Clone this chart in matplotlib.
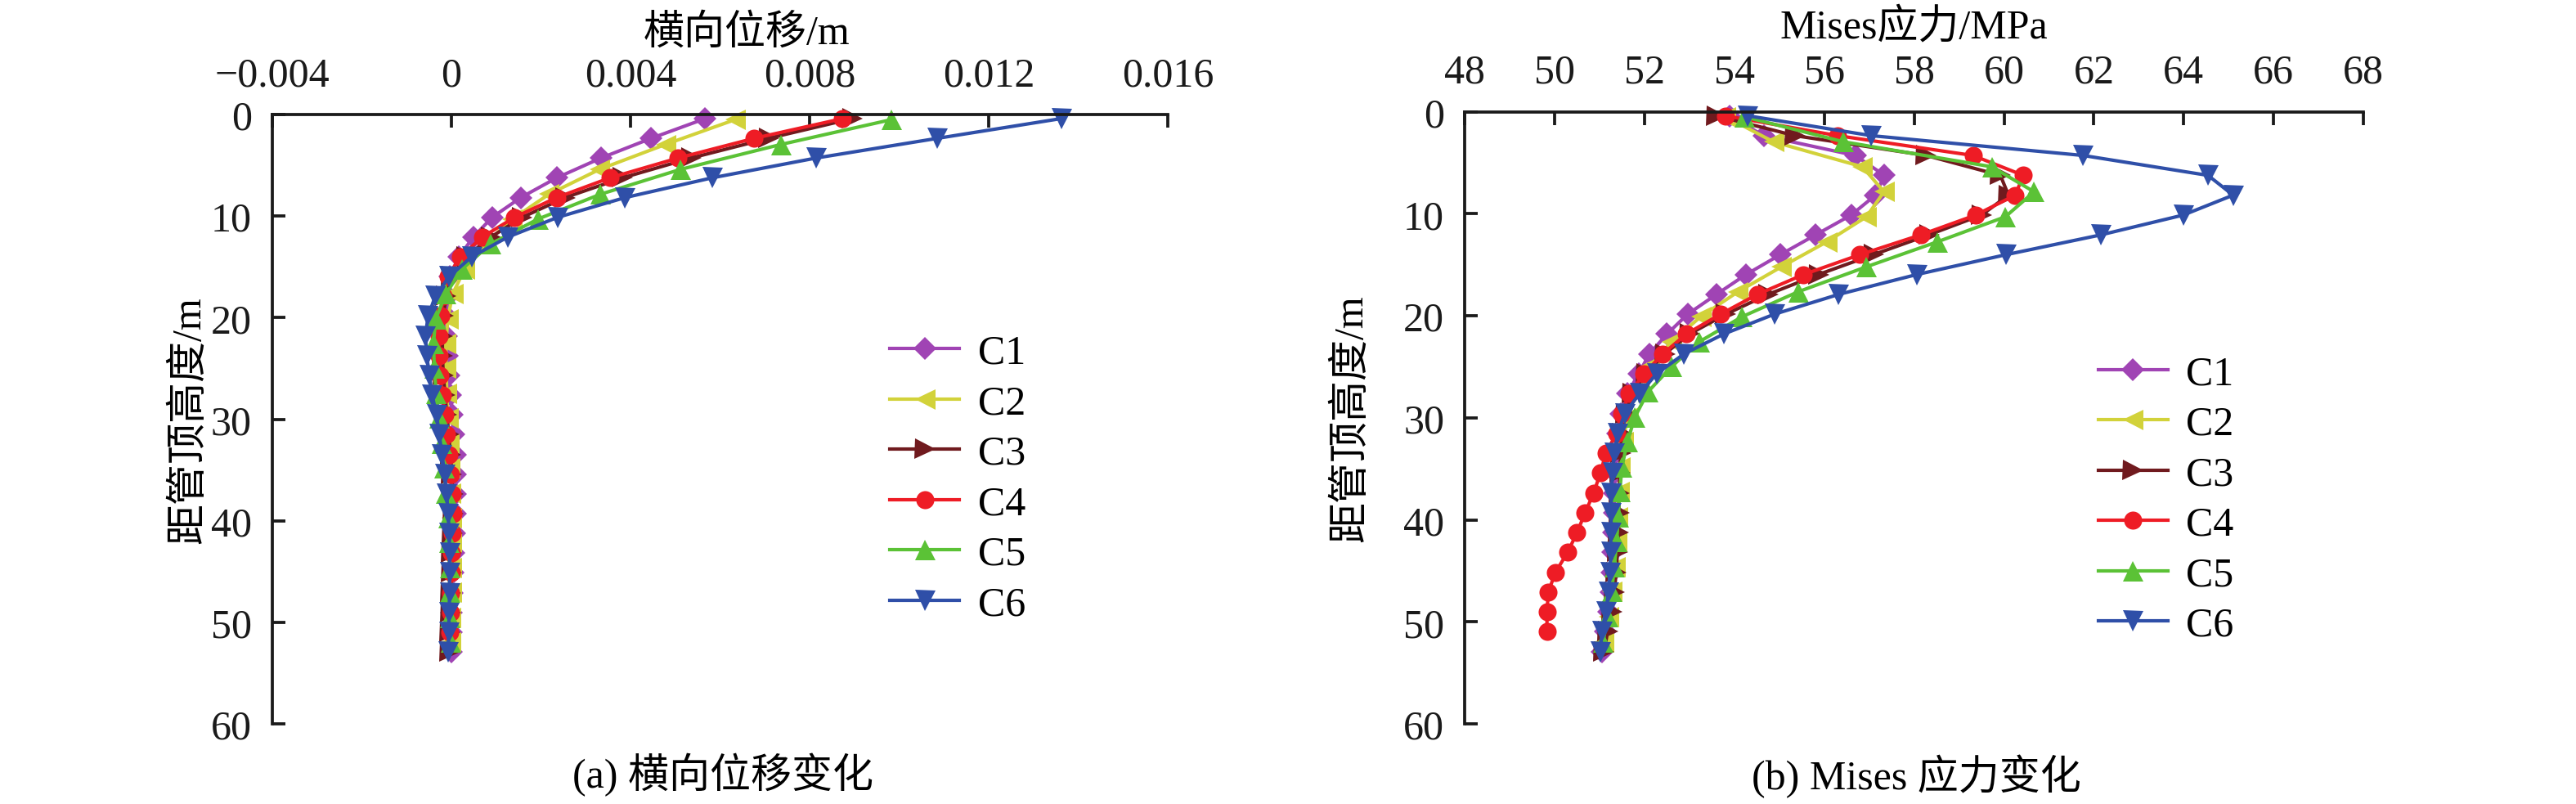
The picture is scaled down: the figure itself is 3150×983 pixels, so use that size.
import matplotlib
matplotlib.use('Agg')
import matplotlib.pyplot as plt

plt.rcParams['font.family'] = ['Liberation Serif', 'Noto Sans CJK SC']
plt.rcParams['axes.unicode_minus'] = True

# depth of each output node below the pipe top (m); C2 and C5 use a coarser mesh
depth_fine = [0.4, 2.35, 4.29, 6.24, 8.18, 10.13, 12.07, 14.02, 15.96, 17.91,
              19.85, 21.8, 23.74, 25.69, 27.63, 29.58, 31.52, 33.47, 35.41, 37.36,
              39.3, 41.25, 43.19, 45.14, 47.08, 49.03, 50.97, 52.92]
depth_coarse = [0.5, 2.95, 5.4, 7.85, 10.3, 12.75, 15.2, 17.65, 20.1, 22.55, 25.0,
                27.45, 29.9, 32.35, 34.8, 37.25, 39.7, 42.15, 44.6, 47.05, 49.5, 51.95]

labels = ['C1', 'C2', 'C3', 'C4', 'C5', 'C6']
colors = ['#A044B4', '#D2D23A', '#701A1E', '#EE1C25', '#5BC236', '#2F4FA8']
markers = ['D', '<', '>', 'o', '^', 'v']
msizes = [4.6, 6.0, 6.0, 5.3, 6.0, 6.0]

# (a) lateral displacement, m
disp_c1 = [0.00567, 0.00446, 0.00334, 0.00235, 0.00155, 0.00091, 0.00049, 0.00017, -0.00004, -0.00008,
           -0.0001, -0.0001, -0.00009, -0.00006, -0.00002, 0.00002, 0.00006, 0.00009, 0.0001, 0.0001,
           0.00009, 0.00007, 0.00005, 0.00003, 0.00002, 0.00001, 0.0, 0.0]
disp_c2 = [0.00634, 0.00478, 0.00331, 0.00218, 0.00136, 0.00075, 0.0003, 0.00003, -0.00008, -0.00012,
           -0.00012, -0.0001, -0.00008, -0.00005, -0.00003, -0.00001, 0.0, 0.00001, 0.00001, 0.0,
           -0.00001, -0.00002]
disp_c3 = [0.00896, 0.00708, 0.00535, 0.00382, 0.00254, 0.00158, 0.00088, 0.00033, 0.0, -0.00012,
           -0.00018, -0.0002, -0.0002, -0.00018, -0.00014, -0.0001, -0.00006, -0.00002, 0.00001, 0.00003,
           0.00003, 0.00002, 0.00001, 0.0, -0.00001, -0.00002, -0.00003, -0.00003]
disp_c4 = [0.00874, 0.00676, 0.00506, 0.00354, 0.00235, 0.00141, 0.00069, 0.0002, -0.00008, -0.00018,
           -0.00024, -0.00027, -0.00027, -0.00025, -0.0002, -0.00015, -0.0001, -0.00005, -0.00001, 0.00002,
           0.00003, 0.00002, 0.00001, 0.0, -0.00001, -0.00002, -0.00003]
disp_c5 = [0.00983, 0.00736, 0.00512, 0.00333, 0.00193, 0.00088, 0.00024, -0.00012, -0.00035, -0.0004,
           -0.00038, -0.00034, -0.00028, -0.00022, -0.00016, -0.00012, -0.00008, -0.00006, -0.00004, -0.00004,
           -0.00003, -0.00002]
disp_c6 = [0.01362, 0.01085, 0.00814, 0.00582, 0.00388, 0.00237, 0.00126, 0.00045, -0.00005, -0.00036,
           -0.00052, -0.00058, -0.00055, -0.00049, -0.00043, -0.00033, -0.00027, -0.00021, -0.00015, -0.00011,
           -0.00007, -0.00005, -0.00004, -0.00004, -0.00004, -0.00005, -0.00006, -0.00007]

# (b) Mises stress, MPa
mises_c1 = [53.9, 54.65, 56.69, 57.34, 57.14, 56.6, 55.81, 55.02, 54.26, 53.6,
            52.96, 52.5, 52.11, 51.87, 51.62, 51.47, 51.4, 51.36, 51.34, 51.33,
            51.32, 51.31, 51.3, 51.28, 51.25, 51.2, 51.12, 51.05]
mises_c2 = [53.81, 54.87, 56.85, 57.33, 56.94, 56.06, 55.05, 54.08, 53.25, 52.6,
            52.12, 51.82, 51.63, 51.52, 51.46, 51.43, 51.41, 51.38, 51.34, 51.28,
            51.2, 51.1]
mises_c3 = [53.6, 55.35, 58.27, 59.92, 60.1, 59.5, 58.33, 57.09, 55.87, 54.75,
            53.81, 53.0, 52.45, 52.03, 51.72, 51.58, 51.5, 51.47, 51.45, 51.44,
            51.43, 51.42, 51.4, 51.37, 51.33, 51.27, 51.18, 51.1]
mises_c4 = [53.8, 56.3, 59.31, 60.43, 60.25, 59.37, 58.15, 56.79, 55.54, 54.51,
            53.69, 52.93, 52.41, 51.99, 51.66, 51.5, 51.38, 51.14, 51.02, 50.87,
            50.68, 50.5, 50.29, 50.02, 49.86, 49.83, 49.83]
mises_c5 = [54.23, 56.43, 59.73, 60.67, 60.03, 58.52, 56.94, 55.42, 54.17, 53.22,
            52.6, 52.08, 51.79, 51.62, 51.5, 51.45, 51.42, 51.38, 51.33, 51.27,
            51.18, 51.08]
mises_c6 = [54.3, 57.05, 61.76, 64.54, 65.1, 63.99, 62.16, 60.04, 58.06, 56.32,
            54.89, 53.76, 52.88, 52.27, 51.89, 51.56, 51.41, 51.32, 51.29, 51.26,
            51.26, 51.25, 51.25, 51.23, 51.2, 51.14, 51.05, 51.02]

disp = [disp_c1, disp_c2, disp_c3, disp_c4, disp_c5, disp_c6]
mises = [mises_c1, mises_c2, mises_c3, mises_c4, mises_c5, mises_c6]
depths = [depth_fine, depth_coarse, depth_fine, depth_fine, depth_coarse, depth_fine]

disp_ticks = [-0.004, 0, 0.004, 0.008, 0.012, 0.016]
disp_ticklabels = ['\u22120.004', '0', '0.004', '0.008', '0.012', '0.016']
mises_ticks = [48, 50, 52, 54, 56, 58, 60, 62, 64, 66, 68]
depth_ticks = [0, 10, 20, 30, 40, 50, 60]

fs = 12
fig = plt.figure(figsize=(10.5, 3.28), dpi=300)
ax1 = fig.add_axes([0.1057, 0.0996, 0.3476, 0.7571])
ax2 = fig.add_axes([0.5686, 0.0996, 0.3489, 0.7606])


def style(ax):
    for s in ['right', 'bottom']:
        ax.spines[s].set_visible(False)
    for s in ['top', 'left']:
        ax.spines[s].set_linewidth(0.9)
        ax.spines[s].set_color('#1a1a1a')
    ax.xaxis.set_ticks_position('top')
    ax.xaxis.set_label_position('top')
    ax.tick_params(axis='both', direction='in', length=3.8, width=0.9,
                   labelsize=fs, pad=6, colors='#1a1a1a')
    ax.set_ylim(60, 0)
    ax.set_yticks(depth_ticks)
    ax.set_ylabel('距管顶高度/m', fontsize=fs)


for d, x, lab, c, m, ms in zip(depths, disp, labels, colors, markers, msizes):
    ax1.plot(x, d[:len(x)], color=c, marker=m, markersize=ms, markeredgewidth=0,
             linewidth=1.0, label=lab, clip_on=False)
for d, x, lab, c, m, ms in zip(depths, mises, labels, colors, markers, msizes):
    ax2.plot(x, d[:len(x)], color=c, marker=m, markersize=ms, markeredgewidth=0,
             linewidth=1.0, label=lab, clip_on=False)

style(ax1)
ax1.set_xlim(-0.004, 0.016)
ax1.set_xticks(disp_ticks)
ax1.set_xticklabels(disp_ticklabels)
ax1.set_xlabel('横向位移/m', fontsize=fs)
ax1.xaxis.set_label_coords(0.53, 1.117)
ax1.yaxis.set_label_coords(-0.071, 0.5)

style(ax2)
ax2.set_xlim(48, 68)
ax2.set_xticks(mises_ticks)
ax2.set_xlabel('Mises应力/MPa', fontsize=fs)
ax2.xaxis.set_label_coords(0.5, 1.122)
ax2.yaxis.set_label_coords(-0.105, 0.5)

leg_kw = dict(frameon=False, fontsize=fs, handlelength=1.7, handletextpad=0.45,
              labelspacing=0.3, borderpad=0, borderaxespad=0, loc='upper left')
ax1.legend(bbox_to_anchor=(0.69, 0.64), **leg_kw)
ax2.legend(bbox_to_anchor=(0.705, 0.603), **leg_kw)

fig.text(0.2806, 0.037, '(a) 横向位移变化', ha='center', va='center', fontsize=fs)
fig.text(0.7438, 0.035, '(b) Mises 应力变化', ha='center', va='center', fontsize=fs)

fig.savefig('out.png', dpi=300)
